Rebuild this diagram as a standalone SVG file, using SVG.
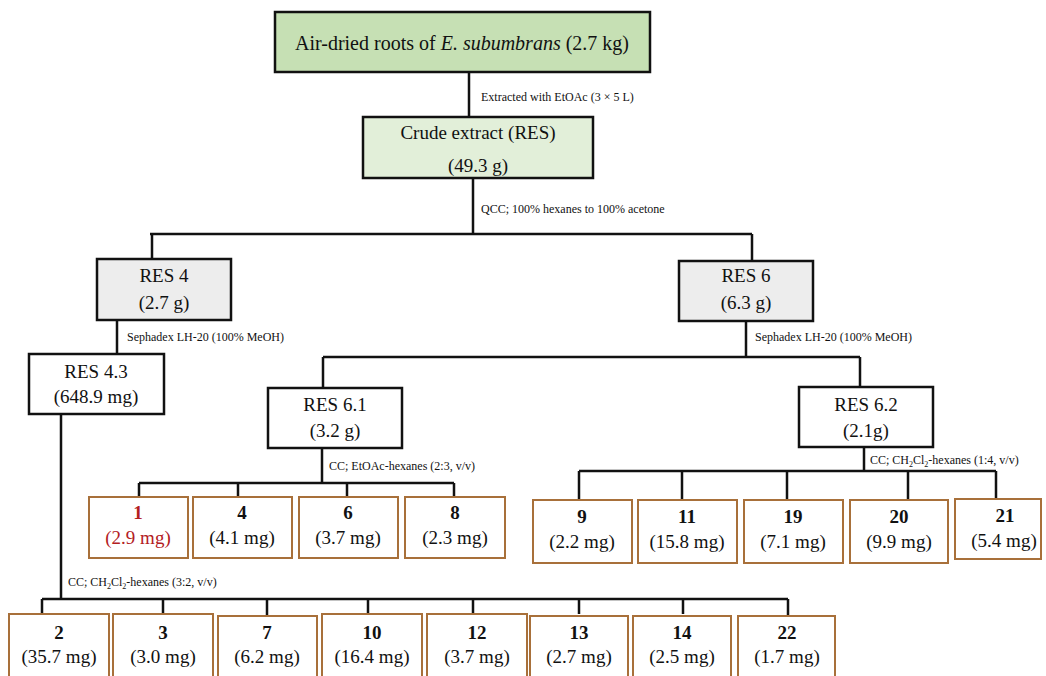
<svg xmlns="http://www.w3.org/2000/svg" width="1046" height="676" viewBox="0 0 1046 676">
<style>
text{font-family:"Liberation Serif","Times New Roman",serif;fill:#111}
.n{font-size:19px;text-anchor:middle}
.t{font-size:20px;text-anchor:middle}
.b{font-weight:bold}
.s{font-size:12px}
.box{stroke:#111;stroke-width:2.5}
.cmp{fill:#fff;stroke:#a8703a;stroke-width:2}
.ln{stroke:#111;stroke-width:2.5;fill:none}
.red{fill:#b3201f}
</style>
<rect width="1046" height="676" fill="#fff"/>
<g id="connectors">
<path class="ln" d="M469 72V117M473 178V234M150 234H752M152 234V259M752 234V261"/>
<path class="ln" d="M117 320V354M746 321V357M323 357H860M323 357V388M860 357V387"/>
<path class="ln" d="M322 448V483M139 483H454M139 483V497M238 483V497M347 483V497M454 483V497"/>
<path class="ln" d="M864 447V471M579 471H996M579 471V500M682 471V500M787 471V500M908 471V500M996 471V499"/>
<path class="ln" d="M61 414V599M42 599H788M42 599V614M163 599V614M267 599V616M368 599V614M473 599V614M579 599V614M683 599V614M788 599V616"/>
<text class="s" x="481" y="101">Extracted with EtOAc (3 × 5 L)</text>
<text class="s" x="481" y="213">QCC; 100% hexanes  to 100% acetone</text>
<text class="s" x="127" y="341">Sephadex LH-20 (100% MeOH)</text>
<text class="s" x="755" y="341">Sephadex LH-20 (100% MeOH)</text>
<text class="s" x="329" y="470">CC; EtOAc-hexanes (2:3, v/v)</text>
<text class="s" x="870" y="464">CC; CH<tspan font-size="8" dy="2.5">2</tspan><tspan dy="-2.5">Cl</tspan><tspan font-size="8" dy="2.5">2</tspan><tspan dy="-2.5">-hexanes (1:4,  v/v)</tspan></text>
<text class="s" x="68" y="586">CC; CH<tspan font-size="8" dy="2.5">2</tspan><tspan dy="-2.5">Cl</tspan><tspan font-size="8" dy="2.5">2</tspan><tspan dy="-2.5">-hexanes (3:2,  v/v)</tspan></text>
</g>
<g id="n-roots"><rect class="box" x="275" y="12" width="375" height="60" fill="#c6e0b4"/><text class="t" x="462" y="50">Air-dried roots of <tspan font-style="italic">E. subumbrans</tspan> (2.7 kg)</text></g>
<g id="n-crude"><rect class="box" x="363" y="117" width="230" height="61" fill="#e2efd9"/><text class="n" x="478" y="139">Crude extract (RES)</text><text class="n" x="478" y="172">(49.3 g)</text></g>
<g id="n-res4"><rect class="box" x="97" y="259" width="134" height="61" fill="#ededed"/><text class="n" x="164" y="282">RES 4</text><text class="n" x="164" y="309">(2.7 g)</text></g>
<g id="n-res6"><rect class="box" x="679" y="261" width="134" height="60" fill="#ededed"/><text class="n" x="746" y="282">RES 6</text><text class="n" x="746" y="309">(6.3 g)</text></g>
<g id="n-res43"><rect class="box" x="29" y="354" width="135" height="60" fill="#fff"/><text class="n" x="96" y="378">RES 4.3</text><text class="n" x="96" y="403">(648.9 mg)</text></g>
<g id="n-res61"><rect class="box" x="268" y="388" width="134" height="60" fill="#fff"/><text class="n" x="335" y="411">RES 6.1</text><text class="n" x="335" y="437">(3.2 g)</text></g>
<g id="n-res62"><rect class="box" x="799" y="387" width="134" height="60" fill="#fff"/><text class="n" x="866" y="411">RES 6.2</text><text class="n" x="866" y="437">(2.1g)</text></g>
<g id="c1"><rect class="cmp" x="89" y="497" width="99" height="61"/><text class="n b red" x="138" y="519">1</text><text class="n red" x="138" y="544">(2.9 mg)</text></g>
<g id="c4"><rect class="cmp" x="193" y="497" width="99" height="61"/><text class="n b" x="242" y="519">4</text><text class="n" x="242" y="544">(4.1 mg)</text></g>
<g id="c6"><rect class="cmp" x="299" y="497" width="99" height="61"/><text class="n b" x="348" y="519">6</text><text class="n" x="348" y="544">(3.7 mg)</text></g>
<g id="c8"><rect class="cmp" x="405" y="497" width="100" height="61"/><text class="n b" x="455" y="519">8</text><text class="n" x="455" y="544">(2.3 mg)</text></g>
<g id="c9"><rect class="cmp" x="533" y="500" width="99" height="63"/><text class="n b" x="582" y="523">9</text><text class="n" x="582" y="548">(2.2 mg)</text></g>
<g id="c11"><rect class="cmp" x="638" y="500" width="99" height="63"/><text class="n b" x="687" y="523">11</text><text class="n" x="687" y="548">(15.8 mg)</text></g>
<g id="c19"><rect class="cmp" x="744" y="500" width="99" height="63"/><text class="n b" x="793" y="523">19</text><text class="n" x="793" y="548">(7.1 mg)</text></g>
<g id="c20"><rect class="cmp" x="850" y="500" width="98" height="63"/><text class="n b" x="899" y="523">20</text><text class="n" x="899" y="548">(9.9 mg)</text></g>
<g id="c21"><rect class="cmp" x="955" y="499" width="86" height="60"/><text class="n b" x="1005" y="522">21</text><text class="n" x="1004" y="547">(5.4 mg)</text></g>
<g id="c2"><rect class="cmp" x="9" y="614" width="100" height="70"/><text class="n b" x="59" y="639">2</text><text class="n" x="59" y="663">(35.7 mg)</text></g>
<g id="c3"><rect class="cmp" x="113" y="614" width="100" height="70"/><text class="n b" x="163" y="639">3</text><text class="n" x="163" y="663">(3.0 mg)</text></g>
<g id="c7"><rect class="cmp" x="218" y="616" width="99" height="70"/><text class="n b" x="267" y="639">7</text><text class="n" x="267" y="663">(6.2 mg)</text></g>
<g id="c10"><rect class="cmp" x="322" y="614" width="100" height="70"/><text class="n b" x="372" y="639">10</text><text class="n" x="372" y="663">(16.4 mg)</text></g>
<g id="c12"><rect class="cmp" x="427" y="614" width="100" height="70"/><text class="n b" x="477" y="639">12</text><text class="n" x="477" y="663">(3.7 mg)</text></g>
<g id="c13"><rect class="cmp" x="530" y="616" width="98" height="70"/><text class="n b" x="579" y="639">13</text><text class="n" x="579" y="663">(2.7 mg)</text></g>
<g id="c14"><rect class="cmp" x="633" y="616" width="98" height="70"/><text class="n b" x="682" y="639">14</text><text class="n" x="682" y="663">(2.5 mg)</text></g>
<g id="c22"><rect class="cmp" x="738" y="616" width="97" height="70"/><text class="n b" x="787" y="639">22</text><text class="n" x="787" y="663">(1.7 mg)</text></g>
</svg>
